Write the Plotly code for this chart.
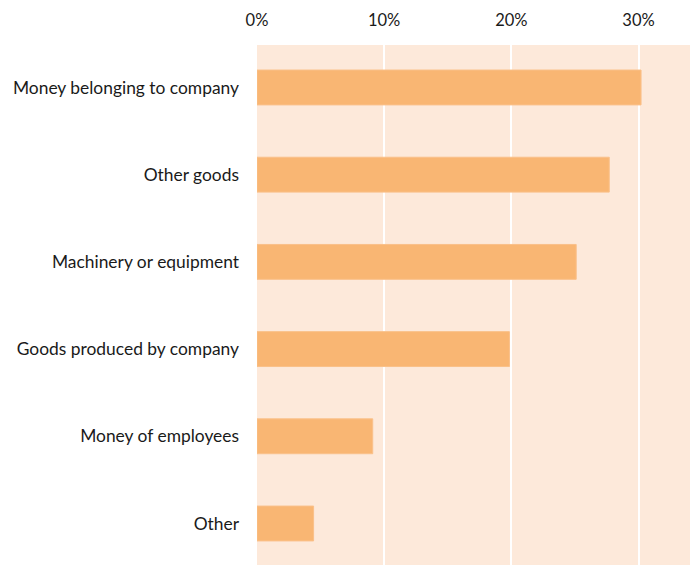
import plotly.graph_objects as go

categories = ["Money belonging to company", "Other goods", "Machinery or equipment",
              "Goods produced by company", "Money of employees", "Other"]
values = [30.2, 27.7, 25.1, 19.85, 9.1, 4.45]
tick_vals = [0, 10, 20, 30]
tick_text = ["0%", "10%", "20%", "30%"]

fig = go.Figure(go.Bar(
    x=values, y=categories, orientation="h",
    marker=dict(color="#F9B673", line=dict(color="#FAC089", width=1)),
    width=0.4, hoverinfo="skip"))

fig.update_layout(
    width=690, height=565,
    margin=dict(l=257, r=0, t=45, b=0),
    paper_bgcolor="white", plot_bgcolor="#FDE9DA",
    font=dict(family="Lato, Open Sans, sans-serif", size=16, color="#1a1a1a"),
    showlegend=False,
    xaxis=dict(side="top", range=[0, 34.05], tickvals=tick_vals, ticktext=tick_text,
               showgrid=True, gridcolor="white", gridwidth=2, zeroline=False,
               showline=False, ticks="", ticklabelstandoff=15, fixedrange=True,
               tickfont=dict(size=16.5)),
    yaxis=dict(categoryorder="array", categoryarray=categories[::-1],
               range=[-0.476, 5.487], showgrid=False, zeroline=False, ticks="",
               ticklabelstandoff=17, fixedrange=True, tickfont=dict(size=17.4)),
)
fig.write_html("out.html", config={"displayModeBar": False},
               post_script="document.body.style.margin='0';document.body.style.padding='0';")
